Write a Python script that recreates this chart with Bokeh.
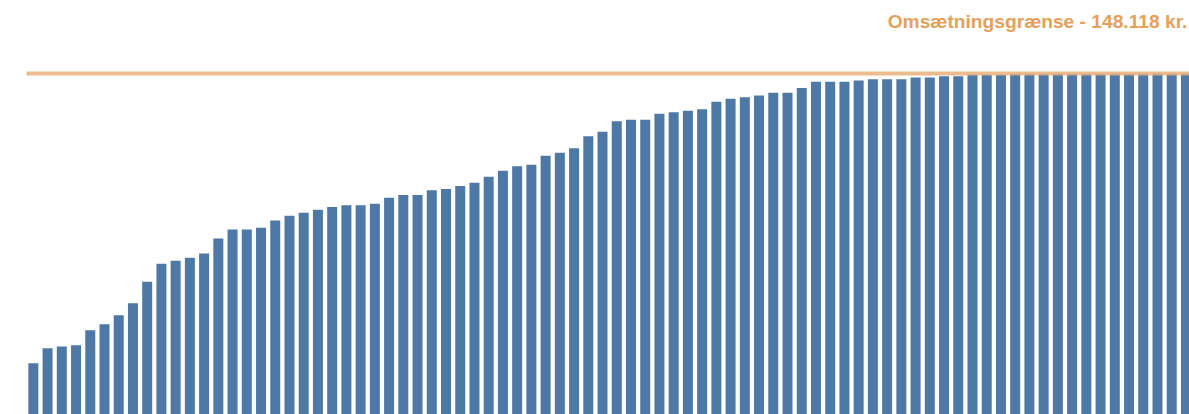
from bokeh.plotting import figure
from bokeh.models import Range1d, Label, ColumnDataSource
from bokeh.embed import file_html
from bokeh.resources import INLINE

# Omsætning pr. enhed, sorteret stigende (kr.)
omsaetning = [
    22283, 28798, 29536, 30101, 36617, 39223, 43132, 48344, 57640, 65458,
    66761, 68064, 69932, 76447, 80357, 80357, 81095, 84266, 86307, 87610,
    88913, 90130, 90912, 90912, 91520, 94126, 95342, 95342, 97384, 97948,
    99251, 100641, 103248, 105854, 107852, 108460, 112369, 113672, 115670, 120883,
    122794, 127398, 128006, 128006, 130612, 131307, 131915, 132610, 135824, 137127,
    137822, 138561, 139733, 139733, 141818, 144512, 144512, 144512, 145076, 145641,
    145641, 145641, 146379, 146379, 146944, 146944, 147682, 147682, 147682, 148000,
    148000, 148000, 148000, 148000, 148000, 148000, 148000, 148000, 148118, 148118,
    148118, 148118,
]
positioner = list(range(len(omsaetning)))

# Omsætningsgrænse (kr.)
graense = 148118
graense_tekst = "Omsætningsgrænse - " + f"{graense:,}".replace(",", ".") + " kr."

BAR_COLOR = "#4e79a7"
LINE_COLOR = "#eab07a"
TEXT_COLOR = "#e6a05a"

p = figure(
    width=1189, height=414,
    x_range=Range1d(-2.3085, 81.25),
    y_range=Range1d(0, 179825),
    output_backend="svg", toolbar_location=None,
    min_border=0, min_border_left=0, min_border_right=0,
    min_border_top=0, min_border_bottom=0,
)
p.axis.visible = False
p.grid.visible = False
p.outline_line_color = None
p.background_fill_color = "white"
p.border_fill_color = "white"

src = ColumnDataSource(dict(x=positioner, top=omsaetning))
p.vbar(x="x", top="top", bottom=0, width=0.703, source=src,
       fill_color=BAR_COLOR, line_color=None)

# Grænselinje tegnet oven på søjlerne
p.segment(x0=[-0.48], y0=[graense], x1=[82], y1=[graense],
          line_color=LINE_COLOR, line_width=4, line_alpha=0.85)

p.add_layout(Label(
    x=81.1, y=170700, text=graense_tekst,
    text_align="right", text_baseline="alphabetic",
    text_font="Liberation Sans", text_font_style="bold",
    text_font_size="19.2px", text_color=TEXT_COLOR,
))

open("out.html", "w").write(file_html(p, INLINE))
